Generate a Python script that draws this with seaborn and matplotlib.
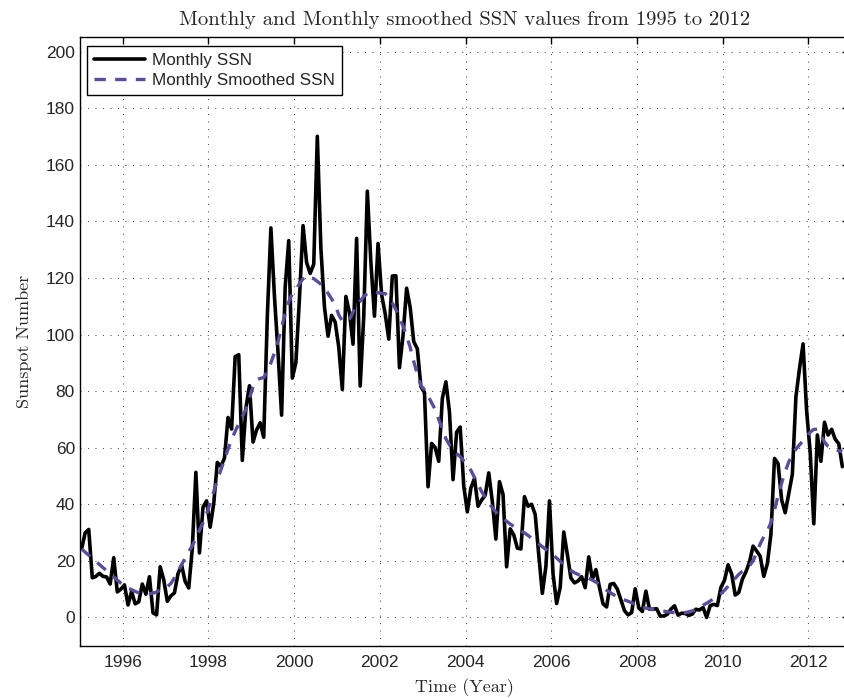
import numpy as np
import pandas as pd
import matplotlib
matplotlib.use("Agg")
import matplotlib.pyplot as plt
import seaborn as sns

# ---------------- data ----------------
start_year = 1995
# Monthly SSN, Jan 1995 .. Oct 2012
monthly_ssn = [
    24.2, 29.9, 31.1, 14.0, 14.5, 15.6, 14.5, 14.3, 11.8, 21.1, 9.0, 10.0,      # 1995
    11.5, 4.4, 9.2, 4.8, 5.5, 11.8, 8.2, 14.4, 1.6, 0.9, 17.9, 13.3,           # 1996
    5.7, 7.6, 8.7, 15.5, 18.5, 12.7, 10.4, 24.4, 51.3, 22.8, 39.0, 41.2,       # 1997
    31.9, 40.3, 54.8, 53.4, 56.3, 70.7, 66.6, 92.2, 92.9, 55.5, 74.0, 81.9,    # 1998
    62.0, 66.3, 68.8, 63.7, 106.4, 137.7, 113.5, 93.7, 71.5, 116.7, 133.2, 84.6,  # 1999
    90.1, 112.9, 138.5, 125.5, 121.6, 124.9, 170.1, 130.5, 109.7, 99.4, 106.8, 104.4,  # 2000
    95.6, 80.6, 113.5, 107.7, 96.6, 134.0, 81.8, 106.4, 150.7, 125.5, 106.5, 132.2,  # 2001
    114.1, 107.4, 98.4, 120.7, 120.8, 88.3, 99.6, 116.4, 109.6, 97.5, 95.0, 81.6,  # 2002
    79.5, 46.2, 61.5, 60.0, 55.2, 77.4, 83.3, 72.7, 48.7, 65.5, 67.3, 46.5,    # 2003
    37.3, 45.8, 49.1, 39.3, 41.5, 43.2, 51.1, 40.9, 27.7, 48.0, 43.5, 17.9,    # 2004
    31.3, 29.2, 24.5, 24.2, 42.7, 39.3, 40.0, 36.4, 22.1, 8.5, 18.0, 41.2,     # 2005
    15.3, 4.9, 10.6, 30.2, 22.3, 13.9, 12.2, 12.9, 14.4, 10.5, 21.4, 13.6,     # 2006
    16.9, 10.6, 4.8, 3.7, 11.7, 12.0, 10.0, 6.2, 2.4, 0.9, 1.7, 10.1,          # 2007
    3.4, 2.1, 9.3, 2.9, 2.9, 3.1, 0.5, 0.5, 1.1, 2.9, 4.1, 0.8,                # 2008
    1.5, 1.4, 0.7, 1.2, 2.9, 2.6, 3.5, 0.0, 4.2, 4.6, 4.2, 10.6,               # 2009
    13.1, 18.6, 15.4, 7.9, 8.8, 13.5, 16.1, 19.6, 25.2, 23.5, 21.6, 14.5,      # 2010
    19.0, 29.4, 56.2, 54.4, 41.6, 37.0, 43.9, 50.6, 78.0, 88.0, 96.7, 73.0,    # 2011
    58.3, 33.1, 64.5, 55.2, 69.0, 64.5, 66.5, 63.0, 61.4, 53.3,                # 2012
]
# Monthly smoothed SSN, Jan 1995 .. Oct 2012
smoothed_ssn = [
    24.2, 23.1, 22.0, 20.9, 19.8, 18.7, 17.6, 16.5, 15.4, 14.3, 13.2, 12.1,    # 1995
    11.2, 10.4, 9.8, 9.2, 8.7, 8.5, 8.4, 8.4, 8.6, 9.0, 9.6, 10.3,             # 1996
    10.8, 12.0, 14.0, 16.2, 18.6, 21.0, 23.3, 25.3, 28.0, 30.8, 33.5, 36.5,    # 1997
    40.5, 44.5, 48.5, 52.2, 56.0, 59.5, 62.8, 65.8, 68.4, 71.0, 73.6, 77.5,    # 1998
    81.5, 84.0, 84.5, 84.8, 87.0, 90.0, 93.5, 97.5, 102.5, 107.5, 111.5, 114.5,  # 1999
    115.8, 118.0, 119.7, 120.8, 120.0, 119.8, 118.8, 117.8, 116.5, 114.6, 112.6, 110.5,  # 2000
    107.0, 104.8, 104.3, 105.5, 108.0, 110.8, 111.8, 113.5, 114.5, 114.4, 115.0, 114.8,  # 2001
    114.6, 114.5, 113.2, 111.2, 108.8, 106.0, 103.0, 99.5, 95.5, 90.5, 86.0, 82.0,  # 2002
    80.5, 78.3, 75.9, 73.5, 70.0, 66.5, 63.2, 61.0, 59.4, 58.0, 56.8, 55.4,    # 2003
    54.0, 52.0, 49.5, 47.0, 44.5, 42.5, 40.5, 38.8, 37.2, 36.0, 35.0, 34.0,    # 2004
    33.0, 32.2, 31.4, 30.6, 29.9, 29.0, 28.0, 27.0, 26.0, 25.0, 24.0, 23.0,    # 2005
    22.0, 21.0, 19.8, 18.6, 17.5, 16.6, 15.8, 15.2, 14.7, 14.3, 13.8, 13.2,    # 2006
    12.5, 11.5, 10.5, 9.6, 8.8, 8.0, 7.3, 6.8, 6.2, 5.7, 5.2, 4.6,             # 2007
    4.0, 3.6, 3.3, 3.0, 2.8, 2.6, 2.4, 2.2, 2.0, 1.8, 1.7, 1.6,                # 2008
    1.5, 1.7, 2.0, 2.3, 2.8, 3.5, 4.3, 5.0, 5.8, 6.6, 7.4, 8.4,                # 2009
    9.6, 11.0, 12.5, 13.8, 15.2, 16.3, 17.2, 18.2, 20.0, 22.8, 26.0, 28.5,     # 2010
    30.5, 33.5, 38.0, 43.0, 47.5, 51.5, 55.0, 57.5, 59.5, 61.0, 62.5, 64.0,    # 2011
    65.5, 66.5, 66.5, 64.5, 62.0, 60.5, 59.8, 59.3, 58.9, 58.6,                # 2012
]
x_ticks = [1996, 1998, 2000, 2002, 2004, 2006, 2008, 2010, 2012]
y_ticks = [0, 20, 40, 60, 80, 100, 120, 140, 160, 180, 200]
series_labels = ["Monthly SSN", "Monthly Smoothed SSN"]
title_text = "Monthly and Monthly smoothed SSN values from 1995 to 2012"
x_label = "Time (Year)"
y_label = "Sunspot Number"

# ---------------- style ----------------
sns.set_style("white")
plt.rcParams["font.family"] = ["Liberation Sans", "DejaVu Sans"]
plt.rcParams["axes.unicode_minus"] = False

decimal_year = start_year + (np.arange(len(monthly_ssn)) + 0.5) / 12.0
df = pd.DataFrame({
    "year": decimal_year,
    series_labels[0]: monthly_ssn,
    series_labels[1]: smoothed_ssn,
})

fig = plt.figure(figsize=(8.45, 6.98), dpi=100)
ax_l, ax_b = 79.8 / 845, (698 - 645.7) / 698
ax_w, ax_h = 769.2 / 845, 608.4 / 698
ax = fig.add_axes([ax_l, ax_b, ax_w, ax_h])

sns.lineplot(data=df, x="year", y=series_labels[0], ax=ax, color="black",
             lw=2.6, label=series_labels[0], zorder=3)
sns.lineplot(data=df, x="year", y=series_labels[1], ax=ax, color="#5F4B9B",
             lw=2.4, linestyle=(0, (3.4, 2.8)), label=series_labels[1], zorder=4)

ax.set_xlim(1995, 1995 + 769.2 / 42.86)
ax.set_ylim(-10, 205.1)
ax.set_xticks(x_ticks)
ax.set_yticks(y_ticks)
ax.set_xticklabels([str(v) for v in x_ticks])
ax.set_yticklabels([str(v) for v in y_ticks])

ax.tick_params(axis="both", which="major", direction="in", length=5, width=1,
               labelsize=12.5, color="black", top=True, right=True)
ax.tick_params(axis="x", pad=6.5)
ax.tick_params(axis="y", pad=3.5)

ax.grid(True, which="major", color="#3a3a3a", linewidth=0.7,
        linestyle=(0, (1, 6.7)))
ax.set_axisbelow(True)
for s in ax.spines.values():
    s.set_color("black")
    s.set_linewidth(1.0)

serif = ["cmr10", "DejaVu Serif"]
ax.set_title(title_text, fontsize=14.8, family=serif, pad=9)
ax.set_xlabel(x_label, fontsize=13, family=serif, labelpad=6)
ax.set_ylabel(y_label, fontsize=13, family=serif, labelpad=10)

leg = ax.legend(loc="upper left",
                bbox_to_anchor=(7.2 / 769.2, 1 - 8.4 / 608.4),
                borderaxespad=0, fontsize=12.3, frameon=True, fancybox=False,
                edgecolor="black", framealpha=1, handlelength=3.0,
                handletextpad=0.4, labelspacing=0.28, borderpad=0.42)
leg.get_frame().set_linewidth(1.0)

fig.savefig("out.png", dpi=100)
